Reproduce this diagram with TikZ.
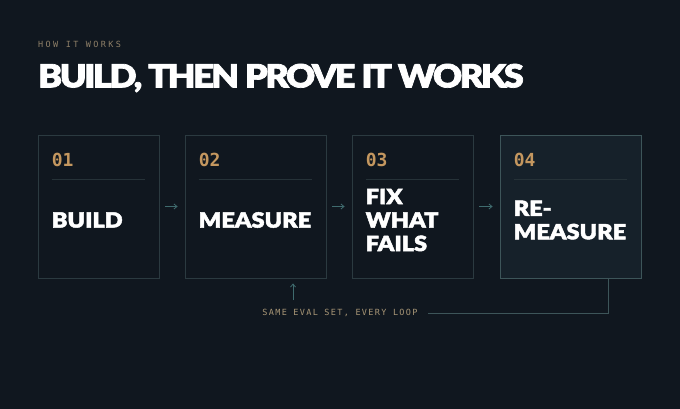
\documentclass[tikz,border=0pt]{standalone}
\usepackage{fontspec}
\usepackage{xcolor}
\usetikzlibrary{positioning,arrows.meta}
\newfontfamily\heavyfont{Lato Black}[FakeBold=2.2,FakeStretch=1.12]
\newfontfamily\monofont{DejaVu Sans Mono}
\newfontfamily\monobold{DejaVu Sans Mono Bold}
\definecolor{bgdark}{HTML}{10171F}
\definecolor{boxline}{HTML}{2B3A40}
\definecolor{lastfill}{HTML}{16212A}
\definecolor{lastline}{HTML}{3D5559}
\definecolor{divline}{HTML}{263238}
\definecolor{flowarrow}{HTML}{3F6B6E}
\definecolor{tan}{HTML}{C4975F}
\definecolor{kicker}{HTML}{8F8068}
\definecolor{looptext}{HTML}{A89676}
\tikzset{
    stepbox/.style={draw=boxline, line width=0.9pt, minimum height=143pt, inner sep=0pt},
    stepnum/.style={anchor=west, inner sep=0pt, text=tan, font=\monobold\fontsize{18}{18}\selectfont},
    steptitle/.style={anchor=west, inner sep=0pt, text=white, align=left, font=\heavyfont\fontsize{21}{23.5}\selectfont},
    flow/.style={draw=flowarrow, line width=0.8pt, -{Straight Barb[length=3pt,width=5pt]}, shorten <=6pt, shorten >=7pt},
    divider/.style={draw=divline, line width=0.8pt}
}
\begin{document}
\begin{tikzpicture}[x=1pt,y=-1pt]
    \fill[bgdark] (0,0) rectangle (680,409);
    \useasboundingbox (0,0) rectangle (680,409);

    \node[anchor=west, inner sep=0pt, text=kicker, font=\monofont\fontsize{8.5}{8.5}\selectfont\addfontfeatures{LetterSpace=28}] (kick) at (38,44) {HOW IT WORKS};
    \node[anchor=west, inner sep=0pt, text=white, font=\heavyfont\fontsize{32}{32}\selectfont\addfontfeatures{LetterSpace=-7.5}] (head) at (38,78) {BUILD, THEN PROVE IT WORKS};

    \node[stepbox, minimum width=121pt] (b1) at (98.5,206.5) {};
    \node[stepbox, minimum width=141pt] (b2) at (255.5,206.5) {};
    \node[stepbox, minimum width=121pt] (b3) at (412.5,206.5) {};
    \node[stepbox, minimum width=141pt, draw=lastline, fill=lastfill] (b4) at (570.5,206.5) {};

    \foreach \b/\n in {b1/01, b2/02, b3/03, b4/04}{
        \node[stepnum] (\b num) at ([xshift=14pt]\b.west |- 0,160) {\n};
        \draw[divider] ([xshift=14pt]\b.west |- 0,179.5) -- ([xshift=-14pt]\b.east |- 0,179.5);
    }

    \node[steptitle] (t1) at ([xshift=14pt]b1.west |- 0,220) {BUILD};
    \node[steptitle] (t2) at ([xshift=14pt]b2.west |- 0,220) {MEASURE};
    \node[steptitle] (t3) at ([xshift=14pt]b3.west |- 0,220) {FIX\\WHAT\\FAILS};
    \node[steptitle] (t4) at ([xshift=14pt]b4.west |- 0,220) {RE-\\MEASURE};

    \draw[flow] (b1.east) -- (b2.west);
    \draw[flow] (b2.east) -- (b3.west);
    \draw[flow] (b3.east) -- (b4.west);

    \node[inner sep=0pt, text=looptext, font=\monofont\fontsize{8.5}{8.5}\selectfont\addfontfeatures{LetterSpace=16}] (loop) at (340,313) {SAME EVAL SET, EVERY LOOP};
    \coordinate (loopend) at (428,313);
    \draw[draw=lastline, line width=0.8pt] ([xshift=38pt]b4.south) |- (loopend);
    \draw[flow, shorten <=0pt, shorten >=5pt] (293,300) -- (b2.south -| 293,0);
\end{tikzpicture}
\end{document}
